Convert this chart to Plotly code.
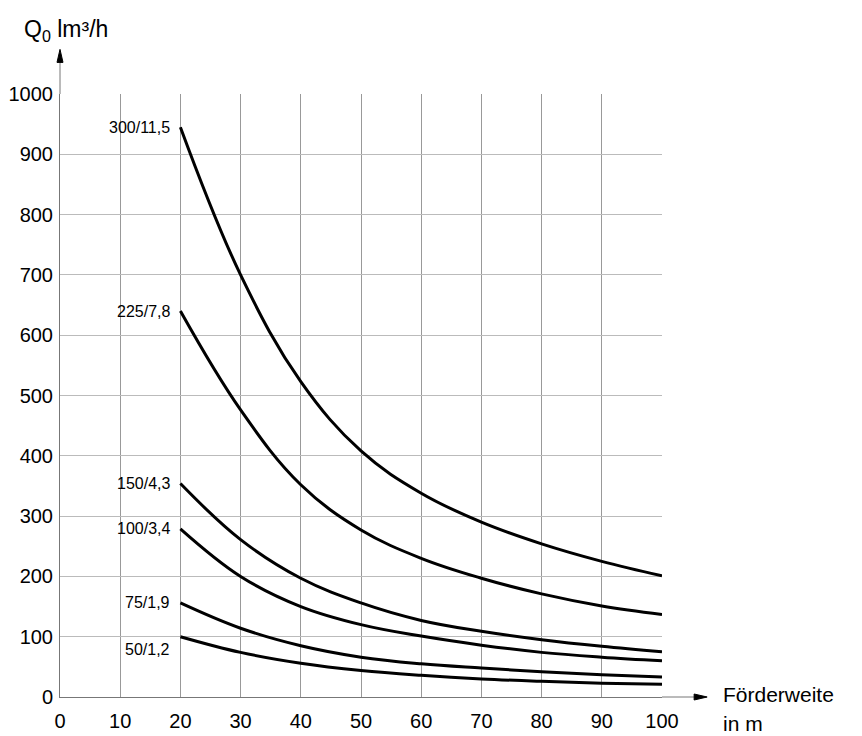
import plotly.graph_objects as go

# Förderweite in m
weite = [20, 30, 40, 50, 60, 70, 80, 90, 100]

# Q0 in m³/h at each 10 m step
q_300 = [945, 700, 523, 408, 338, 290, 254, 225, 201]
q_225 = [640, 476, 352, 277, 230, 197, 171, 151, 137]
q_150 = [354, 261, 197, 156, 127, 109, 95, 84, 75]
q_100 = [279, 200, 150, 120, 101, 86, 74, 66, 60]
q_75 = [156, 114, 85, 66, 55, 48, 42, 37, 33]
q_50 = [100, 74, 56, 44, 36, 30, 26, 23, 21]

kurven = ["300/11,5", "225/7,8", "150/4,3", "100/3,4", "75/1,9", "50/1,2"]
werte = [q_300, q_225, q_150, q_100, q_75, q_50]
# where the label sits vertically (value level)
label_y = [945, 640, 354, 279, 156, 78]

x_ticks = list(range(0, 101, 10))
y_ticks = list(range(0, 1001, 100))

fig = go.Figure()
for name, q in zip(kurven, werte):
    fig.add_trace(go.Scatter(x=weite, y=q, mode="lines", name=name,
                             line=dict(color="black", width=3, shape="spline", smoothing=1.1)))

for name, ly in zip(kurven, label_y):
    fig.add_annotation(x=18.6, y=ly, text=name, showarrow=False, xanchor="right",
                       yanchor="middle", font=dict(size=16, color="black"))

# axis arrows: line extensions plus small filled triangles
fig.add_shape(type="line", xref="paper", yref="paper", x0=0, x1=0, y0=1.0, y1=1.06,
              line=dict(color="#777", width=1))
fig.add_shape(type="path", xref="paper", yref="paper", xsizemode="pixel", ysizemode="pixel",
              xanchor=0, yanchor=1.074, path="M -3,-13 L 0,0 L 3,-13 Z",
              fillcolor="black", line=dict(color="black", width=1))
fig.add_shape(type="line", xref="paper", yref="paper", x0=1.0, x1=1.07, y0=0, y1=0,
              line=dict(color="#777", width=1))
fig.add_shape(type="path", xref="paper", yref="paper", xsizemode="pixel", ysizemode="pixel",
              xanchor=1.075, yanchor=0, path="M -13,-3 L 0,0 L -13,3 Z",
              fillcolor="black", line=dict(color="black", width=1))

fig.add_annotation(xref="paper", yref="paper", x=-0.063, y=1.078, xanchor="left", yanchor="bottom",
                   text="Q<sub>0</sub> lm³/h", showarrow=False, font=dict(size=23, color="black"))
fig.add_annotation(xref="paper", yref="paper", x=1.098, y=0.004, xanchor="left", yanchor="middle",
                   text="Förderweite", showarrow=False, font=dict(size=21, color="black"))
fig.add_annotation(xref="paper", yref="paper", x=1.098, y=-0.044, xanchor="left", yanchor="middle",
                   text="in m", showarrow=False, font=dict(size=21, color="black"))

fig.update_xaxes(range=[0, 100], tickvals=x_ticks, showgrid=True, gridcolor="#999", gridwidth=1,
                 zeroline=False, showline=True, linecolor="#777", ticks="", ticklabelstandoff=6,
                 tickfont=dict(size=20, color="black"), automargin=False)
fig.update_yaxes(range=[0, 1000], tickvals=y_ticks, showgrid=True, gridcolor="#bbb", gridwidth=1,
                 zeroline=False, showline=True, linecolor="#777", ticks="", ticklabelstandoff=2,
                 tickfont=dict(size=20, color="black"), automargin=False)

# page body adds 8px, so the figure is a bit smaller than the window
fig.update_layout(width=854, height=728, showlegend=False,
                  plot_bgcolor="white", paper_bgcolor="white",
                  font=dict(family="Liberation Sans, Arial, sans-serif", color="black"),
                  margin=dict(l=52, r=200, t=86, b=39, autoexpand=False))

fig.write_html("out.html")
